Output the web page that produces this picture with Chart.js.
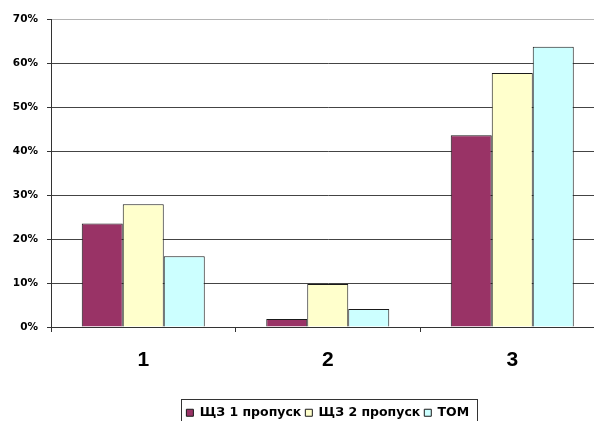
<!DOCTYPE html>
<html>
<head>
<meta charset="utf-8">
<script src="https://cdn.jsdelivr.net/npm/chart.js@4/dist/chart.umd.min.js"></script>
<style>
  html, body { margin: 0; padding: 0; background: #fff; }
  #wrap { width: 594px; height: 421px; overflow: hidden; position: relative; }
  #c { position: absolute; left: 0; top: 0; }
</style>
</head>
<body>
<div id="wrap"><canvas id="c" width="610" height="421"></canvas></div>
<script>
// Categories and series (percent)
const categories = ['1', '2', '3'];
const seriesNames = ['ЩЗ 1 пропуск', 'ЩЗ 2 пропуск', 'ТОМ'];
const shz1 = [23.5, 1.8, 43.6];
const shz2 = [27.9, 9.8, 57.7];
const tom = [16.1, 4.1, 63.7];
const yTicks = [0, 10, 20, 30, 40, 50, 60, 70];

const colors = ['#993366', '#FFFFCC', '#CCFFFF'];
const edge = '#1a1a1a';

// Frame around the legend row
const legendFrame = {
  id: 'legendFrame',
  afterDraw(chart) {
    const lg = chart.legend;
    if (!lg || !lg.legendHitBoxes || !lg.legendHitBoxes.length) return;
    const boxes = lg.legendHitBoxes;
    const first = boxes[0];
    const last = boxes[boxes.length - 1];
    const left = Math.round(first.left - 5) + 0.5;
    const right = Math.round(last.left + last.width + 8) + 0.5;
    const top = Math.round(first.top + first.height / 2 - 14) + 0.5;
    const ctx = chart.ctx;
    ctx.save();
    ctx.strokeStyle = '#333';
    ctx.lineWidth = 1;
    ctx.strokeRect(left, top, right - left, 40);
    ctx.restore();
  }
};

new Chart(document.getElementById('c'), {
  type: 'bar',
  data: {
    labels: categories,
    datasets: [
      { label: seriesNames[0], data: shz1, backgroundColor: colors[0], borderColor: edge, borderWidth: 1 },
      { label: seriesNames[1], data: shz2, backgroundColor: colors[1], borderColor: edge, borderWidth: 1 },
      { label: seriesNames[2], data: tom, backgroundColor: colors[2], borderColor: edge, borderWidth: 1 }
    ]
  },
  options: {
    responsive: false,
    animation: false,
    devicePixelRatio: 1,
    categoryPercentage: 3 / 4.5,
    barPercentage: 1,
    layout: { padding: { left: 0, right: 5.5, top: 19, bottom: -8 } },
    plugins: {
      tooltip: { enabled: false },
      legend: {
        position: 'bottom',
        fullSize: false,
        labels: {
          boxWidth: 7,
          boxHeight: 7,
          padding: 4,
          color: '#000',
          font: { family: 'DejaVu Sans', weight: 'bold', size: 12.5 }
        }
      }
    },
    scales: {
      x: {
        afterFit(s) { s.height = 75.5; },
        grid: {
          offset: true,
          drawOnChartArea: false,
          drawTicks: true,
          tickLength: 5,
          color: '#333'
        },
        border: { color: '#333', width: 1 },
        ticks: {
          padding: 16,
          color: '#000',
          font: { family: 'Liberation Sans', weight: 'bold', size: 21 }
        }
      },
      y: {
        min: 0,
        max: 70,
        afterFit(s) { s.width = 51; },
        afterBuildTicks(s) { s.ticks = yTicks.map(v => ({ value: v })); },
        grid: {
          color: ctx => (ctx.tick && ctx.tick.value === 70 ? '#b4b4b4' : '#444'),
          tickLength: 4,
          tickColor: '#333'
        },
        border: { color: '#333', width: 1 },
        ticks: {
          padding: 9,
          color: '#000',
          font: { family: 'DejaVu Sans', weight: 'bold', size: 10.5 },
          callback: v => v + '%'
        }
      }
    }
  },
  plugins: [legendFrame]
});
</script>
</body>
</html>
